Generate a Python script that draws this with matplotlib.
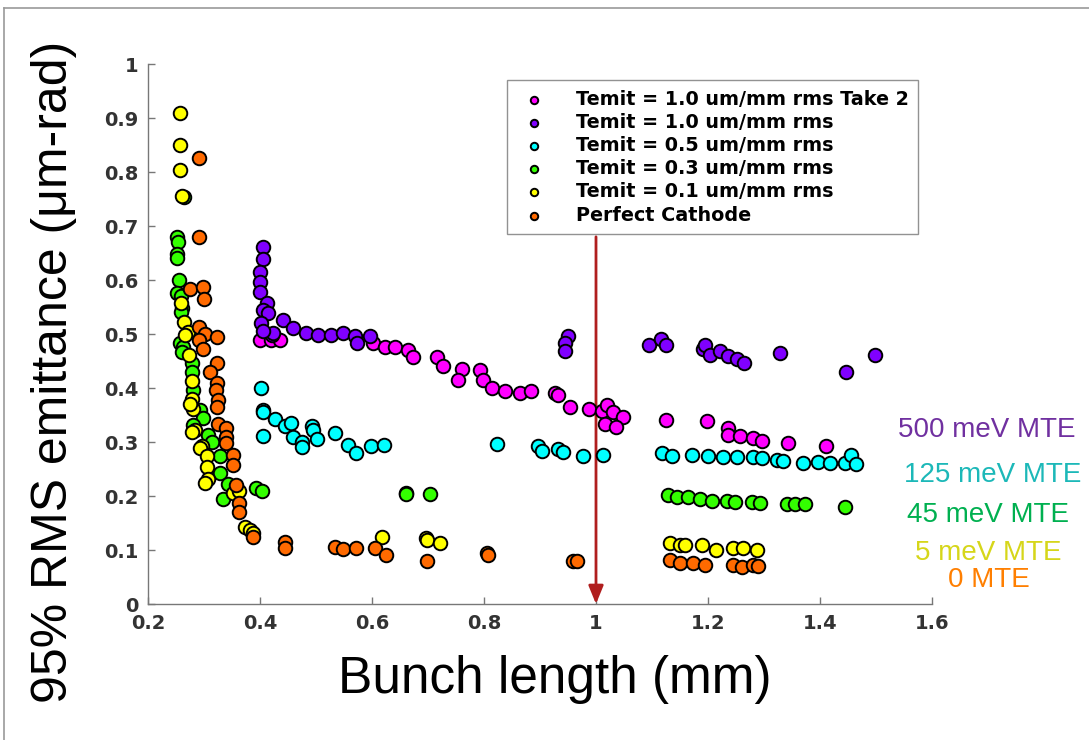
import matplotlib
matplotlib.use("Agg")
import matplotlib.pyplot as plt
from matplotlib.lines import Line2D

# ---------------- data ----------------
labels = ["Temit = 1.0 um/mm rms Take 2", "Temit = 1.0 um/mm rms",
          "Temit = 0.5 um/mm rms", "Temit = 0.3 um/mm rms",
          "Temit = 0.1 um/mm rms", "Perfect Cathode"]

take2_x = [0.400, 0.420, 0.436, 0.602, 0.623, 0.641, 0.664, 0.673, 0.716, 0.727, 0.761, 0.754,
           0.793, 0.798, 0.814, 0.837, 0.864, 0.884, 0.927, 0.932, 0.954, 0.988, 1.011, 1.020,
           1.030, 1.048, 1.016, 1.036, 1.125, 1.198, 1.236, 1.236, 1.257, 1.280, 1.296, 1.343, 1.411]
take2_y = [0.489, 0.489, 0.489, 0.483, 0.476, 0.476, 0.470, 0.457, 0.457, 0.441, 0.435, 0.415,
           0.433, 0.415, 0.400, 0.395, 0.391, 0.395, 0.391, 0.387, 0.365, 0.361, 0.357, 0.369,
           0.356, 0.346, 0.333, 0.328, 0.341, 0.339, 0.326, 0.313, 0.311, 0.307, 0.302, 0.298, 0.293]

t10_x = [0.405, 0.405, 0.400, 0.400, 0.400, 0.413, 0.405, 0.414, 0.402, 0.441, 0.459, 0.421,
         0.423, 0.405, 0.482, 0.504, 0.527, 0.548, 0.570, 0.573, 0.596, 0.950, 0.945, 0.945,
         1.095, 1.116, 1.125, 1.191, 1.195, 1.204, 1.221, 1.236, 1.252, 1.264, 1.329, 1.446, 1.498]
t10_y = [0.661, 0.639, 0.615, 0.596, 0.578, 0.557, 0.544, 0.539, 0.520, 0.526, 0.511, 0.498,
         0.502, 0.505, 0.502, 0.498, 0.498, 0.502, 0.496, 0.483, 0.496, 0.496, 0.483, 0.469,
         0.480, 0.491, 0.480, 0.472, 0.480, 0.461, 0.469, 0.459, 0.454, 0.446, 0.465, 0.430, 0.461]

t05_x = [0.402, 0.405, 0.405, 0.427, 0.445, 0.455, 0.405, 0.459, 0.475, 0.475, 0.493, 0.495,
         0.502, 0.534, 0.557, 0.571, 0.598, 0.621, 0.823, 0.896, 0.904, 0.932, 0.941, 0.977,
         1.013, 1.118, 1.136, 1.171, 1.200, 1.227, 1.252, 1.280, 1.296, 1.323, 1.334, 1.370,
         1.396, 1.418, 1.445, 1.455, 1.464]
t05_y = [0.400, 0.359, 0.355, 0.343, 0.330, 0.335, 0.311, 0.309, 0.300, 0.291, 0.330, 0.322,
         0.305, 0.317, 0.294, 0.280, 0.293, 0.294, 0.296, 0.293, 0.284, 0.287, 0.282, 0.274,
         0.276, 0.280, 0.274, 0.276, 0.274, 0.272, 0.272, 0.272, 0.270, 0.267, 0.265, 0.261,
         0.263, 0.261, 0.261, 0.276, 0.259]

t03_x = [0.264, 0.252, 0.254, 0.252, 0.252, 0.255, 0.252, 0.259, 0.261, 0.259, 0.257, 0.263,
         0.261, 0.279, 0.279, 0.280, 0.293, 0.298, 0.280, 0.307, 0.314, 0.329, 0.329, 0.343,
         0.334, 0.393, 0.404, 0.661, 0.661, 0.704, 1.129, 1.145, 1.164, 1.186, 1.207, 1.234,
         1.248, 1.279, 1.293, 1.341, 1.355, 1.373, 1.445]
t03_y = [0.754, 0.680, 0.670, 0.648, 0.640, 0.600, 0.576, 0.570, 0.548, 0.540, 0.483, 0.476,
         0.466, 0.446, 0.430, 0.396, 0.359, 0.344, 0.331, 0.313, 0.300, 0.274, 0.243, 0.222,
         0.194, 0.215, 0.209, 0.206, 0.204, 0.204, 0.202, 0.198, 0.198, 0.195, 0.191, 0.191,
         0.189, 0.189, 0.187, 0.185, 0.185, 0.185, 0.180]

t01_x = [0.257, 0.257, 0.257, 0.261, 0.259, 0.264, 0.271, 0.266, 0.273, 0.279, 0.279, 0.280,
         0.275, 0.284, 0.278, 0.296, 0.292, 0.305, 0.305, 0.307, 0.302, 0.352, 0.362, 0.373,
         0.382, 0.388, 0.618, 0.696, 0.698, 0.721, 1.132, 1.150, 1.159, 1.189, 1.214, 1.245,
         1.262, 1.287]
t01_y = [0.909, 0.850, 0.804, 0.756, 0.557, 0.522, 0.504, 0.498, 0.461, 0.413, 0.380, 0.361,
         0.370, 0.322, 0.318, 0.293, 0.288, 0.274, 0.254, 0.231, 0.224, 0.205, 0.210, 0.143,
         0.137, 0.131, 0.124, 0.122, 0.119, 0.113, 0.113, 0.109, 0.109, 0.109, 0.100, 0.104,
         0.104, 0.100]

pc_x = [0.291, 0.291, 0.275, 0.298, 0.300, 0.291, 0.302, 0.323, 0.291, 0.298, 0.323, 0.311,
        0.323, 0.321, 0.325, 0.323, 0.325, 0.339, 0.339, 0.339, 0.352, 0.352, 0.357, 0.363,
        0.363, 0.388, 0.445, 0.445, 0.534, 0.549, 0.571, 0.605, 0.625, 0.698, 0.805, 0.807,
        0.959, 0.966, 1.132, 1.150, 1.173, 1.195, 1.245, 1.261, 1.280, 1.289]
pc_y = [0.826, 0.680, 0.583, 0.587, 0.565, 0.513, 0.500, 0.494, 0.489, 0.472, 0.446, 0.430,
        0.410, 0.396, 0.378, 0.365, 0.333, 0.326, 0.309, 0.298, 0.276, 0.257, 0.220, 0.187,
        0.171, 0.124, 0.115, 0.104, 0.106, 0.101, 0.103, 0.103, 0.091, 0.080, 0.094, 0.090,
        0.080, 0.079, 0.081, 0.076, 0.076, 0.072, 0.072, 0.069, 0.072, 0.070]

mte_labels = ["500 meV MTE", "125 meV MTE", "45 meV MTE", "5 meV MTE", "0 MTE"]

xticks = [0.2, 0.4, 0.6, 0.8, 1.0, 1.2, 1.4, 1.6]
xticklabels = ["0.2", "0.4", "0.6", "0.8", "1", "1.2", "1.4", "1.6"]
yticks = [0, 0.1, 0.2, 0.3, 0.4, 0.5, 0.6, 0.7, 0.8, 0.9, 1.0]
yticklabels = ["0", "0.1", "0.2", "0.3", "0.4", "0.5", "0.6", "0.7", "0.8", "0.9", "1"]

# ---------------- styling ----------------
series = [(take2_x, take2_y, "#FF00FF"), (t10_x, t10_y, "#8000FF"),
          (t05_x, t05_y, "#00FFFF"), (t03_x, t03_y, "#33FF00"),
          (t01_x, t01_y, "#FFFF00"), (pc_x, pc_y, "#FF6A00")]
mte_colors = ["#7030A0", "#1CB8B8", "#00B050", "#D6D61A", "#FF7F00"]
mte_pos = [(898, 430), (904, 475), (907, 515), (915, 553), (948, 580)]

W, H = 1089, 740
fig = plt.figure(figsize=(W / 100, H / 100), dpi=100)
ax = fig.add_axes([148 / W, 1 - 604 / H, (932 - 148) / W, (604 - 64) / H])

for (xs, ys, c), lab in zip(series, labels):
    ax.scatter(xs, ys, s=95, c=c, edgecolors="black", linewidths=1.4, label=lab, zorder=3)

ax.set_xlim(0.2, 1.6)
ax.set_ylim(0, 1)
ax.set_xticks(xticks)
ax.set_xticklabels(xticklabels)
ax.set_yticks(yticks)
ax.set_yticklabels(yticklabels)
for sp in ["top", "right"]:
    ax.spines[sp].set_visible(False)
for sp in ["left", "bottom"]:
    ax.spines[sp].set_color("#777777")
    ax.spines[sp].set_linewidth(1.0)
ax.tick_params(direction="in", length=5, width=1, color="#777777",
               labelsize=14, labelcolor="#333333", pad=7)
for t in ax.get_xticklabels() + ax.get_yticklabels():
    t.set_fontweight("bold")
    t.set_family("DejaVu Sans")

ax.set_xlabel("Bunch length (mm)", fontsize=37, family="Liberation Sans")
ax.xaxis.set_label_coords((555 - 148) / 784, -(680 - 604) / 540)
ax.set_ylabel("95% RMS emittance (μm-rad)", fontsize=36, family="Liberation Sans")
ax.yaxis.set_label_coords(-(148 - 54) / 784, (604 - 372) / 540)
ax.xaxis.label.set_va("center")
ax.yaxis.label.set_va("center")

# arrow at 1 mm
ax.annotate("", xy=(1.0, 0.0), xytext=(1.0, 0.68),
            arrowprops=dict(arrowstyle="-|>,head_length=1.1,head_width=0.45",
                            color="#B01E1E", lw=2, shrinkA=0, shrinkB=0), zorder=2)

leg = ax.legend(loc="upper left", bbox_to_anchor=((507 - 148) / (932 - 148), 1 - (80 - 64) / 540),
                markerscale=0.55, frameon=True, fancybox=False, borderaxespad=0,
                prop=dict(family="DejaVu Sans", weight="bold", size=13.8),
                handletextpad=1.3, labelspacing=0.22, borderpad=0.5, handlelength=1.8)
leg.get_frame().set_edgecolor("#777777")
leg.get_frame().set_linewidth(1.0)
leg.set_zorder(5)

for lab, col, (px, py) in zip(mte_labels, mte_colors, mte_pos):
    fig.text(px / W, 1 - py / H, lab, color=col, fontsize=20, family="Liberation Sans",
             ha="left", va="center")

# slide frame
fig.add_artist(Line2D([4 / W, 4 / W], [0, 1 - 8 / H], color="#9A9A9A", lw=1.2))
fig.add_artist(Line2D([4 / W, 1], [1 - 8 / H, 1 - 8 / H], color="#9A9A9A", lw=1.2))

fig.savefig("out.png", dpi=100)
